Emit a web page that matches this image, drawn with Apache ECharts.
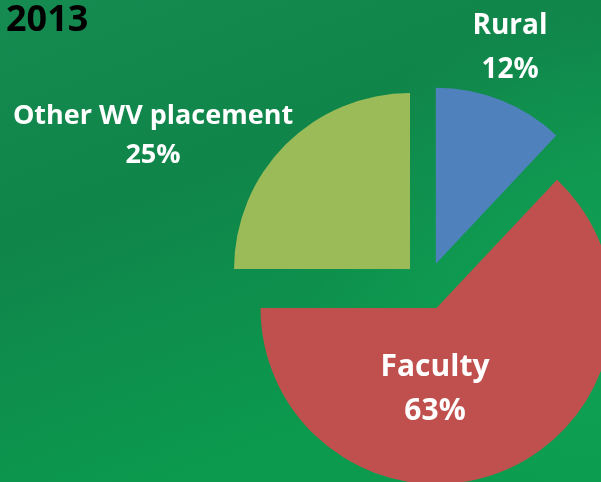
<!DOCTYPE html>
<html>
    <head>
        <meta charset="utf-8">
        <script src="https://cdn.jsdelivr.net/npm/echarts@6/dist/echarts.min.js"></script>
        <style>
            html, body { margin: 0; padding: 0; }
        </style>
    </head>
    <body>
        <div id="main" style="width: 601px;height:482px;"></div>
        <script type="text/javascript">
            // chart data
            var year = '2013';
            var names = ['Rural', 'Faculty', 'Other WV placement'];
            var values = [12, 63, 25];
            var colors = ['#4f81bd', '#c0504d', '#9bbb59'];

            // label placement (pixel centres) and sizes
            var labelPos = [[510, 48], [435, 389], [153, 136]];
            var labelSize = [28, 30, 27];
            var labelLine = [44, 44, 39];

            var myChart = echarts.init(document.getElementById('main'));

            var data = names.map(function (n, i) {
                return {
                    name: n,
                    value: values[i],
                    selected: true,
                    itemStyle: { color: colors[i] }
                };
            });

            // slice labels drawn as text at fixed spots
            var labels = names.map(function (n, i) {
                return {
                    type: 'text',
                    silent: true,
                    z: 10,
                    style: {
                        text: n + '\n' + values[i] + '%',
                        x: labelPos[i][0],
                        y: labelPos[i][1],
                        align: 'center',
                        verticalAlign: 'middle',
                        textAlign: 'center',
                        textVerticalAlign: 'middle',
                        fill: '#fff',
                        fontFamily: 'Open Sans',
                        fontWeight: 'bold',
                        fontSize: labelSize[i],
                        lineHeight: labelLine[i]
                    }
                };
            });

            var option = {
                backgroundColor: {
                    type: 'linear', x: 0, y: 0, x2: 0.3, y2: 1,
                    colorStops: [
                        { offset: 0, color: '#168b51' },
                        { offset: 0.45, color: '#10854a' },
                        { offset: 1, color: '#0b9a4e' }
                    ]
                },
                graphic: [{
                    type: 'rect',
                    shape: { x: 0, y: 0, width: 601, height: 482 },
                    silent: true,
                    z: -1,
                    style: {
                        fill: {
                            type: 'radial', x: 1, y: 0.6, r: 0.6,
                            colorStops: [
                                { offset: 0, color: 'rgba(20,170,90,0.55)' },
                                { offset: 1, color: 'rgba(20,170,90,0)' }
                            ]
                        }
                    }
                }].concat(labels),
                title: {
                    text: year,
                    left: 6,
                    top: 3,
                    padding: 0,
                    textStyle: {
                        color: '#000',
                        fontFamily: 'Open Sans',
                        fontWeight: 'bold',
                        fontSize: 36
                    }
                },
                series: [{
                    type: 'pie',
                    center: [427, 286],
                    radius: 176,
                    startAngle: 90,
                    clockwise: true,
                    selectedMode: 'multiple',
                    selectedOffset: 24,
                    animation: false,
                    silent: true,
                    select: { itemStyle: { borderWidth: 0 } },
                    label: { show: false },
                    labelLine: { show: false },
                    data: data
                }]
            };

            myChart.setOption(option);
        </script>
    </body>
</html>
